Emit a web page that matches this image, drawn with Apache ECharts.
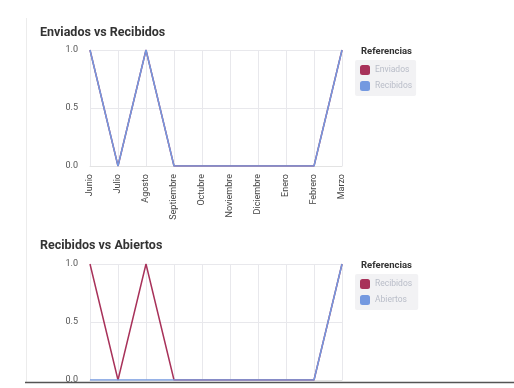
<!DOCTYPE html>
<html><head><meta charset="utf-8">
<script src="https://cdn.jsdelivr.net/npm/echarts@6/dist/echarts.min.js"></script>
<style>html,body{margin:0;padding:0;background:#fff}#c{width:514px;height:388px}</style>
</head><body><div id="c"></div>
<script>
const months = ['Junio','Julio','Agosto','Septiembre','Octubre','Noviembre','Diciembre','Enero','Febrero','Marzo'];
const enviados = [1,0,1,0,0,0,0,0,0,1];
const recibidos = [1,0,1,0,0,0,0,0,0,1];
const abiertos = [0,0,0,0,0,0,0,0,0,1];
const yTicks = ['0.0','0.5','1.0'];
const crimson = '#a8325a', blue = '#7499e0';
const FONT = 'Roboto, "Noto Sans", sans-serif';

const chart = echarts.init(document.getElementById('c'), null, {renderer:'canvas'});
function xAxis(idx, showLabels){
  return {type:'category', gridIndex:idx, data:months, boundaryGap:false,
    axisLine:{show:true,lineStyle:{color:'#e3e3e3'}}, axisTick:{show:false},
    axisLabel:{show:showLabels, rotate:90, fontSize:9, color:'#444', fontFamily:FONT, margin:8},
    splitLine:{show:true,lineStyle:{color:'#e8e8ec'}}};
}
function yAxis(idx){
  return {type:'value', gridIndex:idx, min:0, max:1, interval:0.5,
    axisLine:{show:false}, axisTick:{show:false},
    axisLabel:{fontSize:9, color:'#555', fontFamily:FONT, margin:12, formatter:v=>yTicks[Math.round(v*2)]},
    splitLine:{lineStyle:{color:'#e8e8ec'}}};
}
function line(name, data, color, xi){
  return {type:'line', name:name, data:data, xAxisIndex:xi, yAxisIndex:xi, symbol:'none',
    lineStyle:{color:color,width:1.5}, itemStyle:{color:color}};
}
function legend(top, names){
  return {top:top, left:355, orient:'vertical', data:names, icon:'roundRect', itemWidth:10, itemHeight:10,
    itemGap:6, backgroundColor:'#f2f2f4', padding:[5,4,5,5], borderRadius:2,
    textStyle:{color:'#b9bdc8', fontSize:8.5, fontFamily:FONT}, selectedMode:false};
}
chart.setOption({
  animation:false,
  title:[
    {text:'Enviados vs Recibidos', left:35, top:21, textStyle:{fontSize:12.5, fontWeight:'bold', color:'#333', fontFamily:FONT}},
    {text:'Recibidos vs Abiertos', left:35, top:234, textStyle:{fontSize:12.5, fontWeight:'bold', color:'#333', fontFamily:FONT}},
    {text:'Referencias', left:356, top:42, textStyle:{fontSize:9.5, fontWeight:'bold', color:'#333', fontFamily:FONT}},
    {text:'Referencias', left:356, top:256, textStyle:{fontSize:9.5, fontWeight:'bold', color:'#333', fontFamily:FONT}}
  ],
  legend:[legend(60, ['Enviados','Recibidos']), legend(274, [{name:'Recibidos '},{name:'Abiertos'}])],
  grid:[{left:90, width:252, top:50, height:116, outerBoundsMode:'none', containLabel:false},
        {left:90, width:252, top:264, height:116, outerBoundsMode:'none', containLabel:false}],
  xAxis:[xAxis(0,true), xAxis(1,true)],
  yAxis:[yAxis(0), yAxis(1)],
  series:[
    line('Enviados', enviados, crimson, 0),
    line('Recibidos', recibidos, blue, 0),
    line('Recibidos ', recibidos, crimson, 1),
    line('Abiertos', abiertos, blue, 1)
  ],
  graphic:[
    {type:'line', shape:{x1:26.5,y1:18,x2:26.5,y2:382}, style:{stroke:'#ececec',lineWidth:1}},
    {type:'line', shape:{x1:25,y1:382.5,x2:514,y2:382.5}, style:{stroke:'#555',lineWidth:1.5}, z:100}
  ]
});
</script></body></html>
